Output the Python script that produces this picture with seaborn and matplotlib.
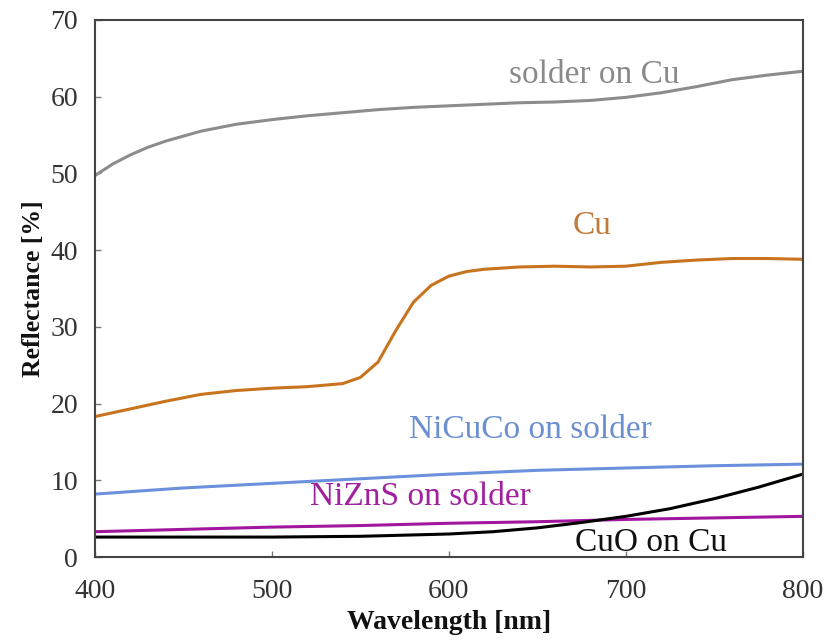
import matplotlib
matplotlib.use("Agg")
import matplotlib.pyplot as plt
import seaborn as sns
import pandas as pd

# ---- data ----
solder_wl = [400, 410, 420, 430, 440, 460, 480, 500, 520, 540, 560, 580, 600, 620, 640, 660, 680, 700, 720, 740, 760, 780, 800]
solder_r = [49.7, 51.2, 52.4, 53.4, 54.2, 55.5, 56.4, 57.0, 57.5, 57.9, 58.3, 58.6, 58.8, 59.0, 59.2, 59.3, 59.5, 59.9, 60.5, 61.3, 62.2, 62.8, 63.3]

cu_wl = [400, 420, 440, 460, 480, 500, 520, 540, 550, 560, 570, 580, 590, 600, 610, 620, 640, 660, 680, 700, 720, 740, 760, 780, 800]
cu_r = [18.3, 19.3, 20.3, 21.2, 21.7, 22.0, 22.2, 22.6, 23.4, 25.4, 29.5, 33.2, 35.4, 36.6, 37.2, 37.5, 37.8, 37.9, 37.8, 37.9, 38.4, 38.7, 38.9, 38.9, 38.8]

nicuco_wl = [400, 450, 500, 550, 600, 650, 700, 750, 800]
nicuco_r = [8.2, 9.0, 9.6, 10.2, 10.8, 11.3, 11.6, 11.9, 12.1]

niznS_wl = [400, 450, 500, 550, 600, 650, 700, 750, 800]
niznS_r = [3.3, 3.6, 3.9, 4.1, 4.4, 4.6, 4.9, 5.1, 5.3]

cuo_wl = [400, 450, 500, 550, 600, 625, 650, 675, 700, 725, 750, 775, 800]
cuo_r = [2.6, 2.6, 2.6, 2.7, 3.0, 3.3, 3.8, 4.5, 5.3, 6.3, 7.6, 9.1, 10.8]

series_names = ["solder on Cu", "Cu", "NiCuCo on solder", "NiZnS on solder", "CuO on Cu"]
x_ticks = [400, 500, 600, 700, 800]
y_ticks = [0, 10, 20, 30, 40, 50, 60, 70]

# ---- build long table ----
frames = []
for name, wl, r in zip(series_names,
                       [solder_wl, cu_wl, nicuco_wl, niznS_wl, cuo_wl],
                       [solder_r, cu_r, nicuco_r, niznS_r, cuo_r]):
    frames.append(pd.DataFrame({"Wavelength": wl, "Reflectance": r, "Sample": name}))
df = pd.concat(frames, ignore_index=True)

line_colors = {
    "solder on Cu": "#8c8c8c",
    "Cu": "#c8741e",
    "NiCuCo on solder": "#6b90dc",
    "NiZnS on solder": "#a0169f",
    "CuO on Cu": "#000000",
}
text_colors = {
    "solder on Cu": "#8a8a8a",
    "Cu": "#c07a3a",
    "NiCuCo on solder": "#6b8fd0",
    "NiZnS on solder": "#a0209f",
    "CuO on Cu": "#111111",
}

sns.set_theme(style="white")
plt.rcParams["font.family"] = ["Liberation Serif", "DejaVu Serif"]

fig = plt.figure(figsize=(8.25, 6.41), dpi=100)
ax = fig.add_axes([0.115, 0.131, 0.858, 0.838])

sns.lineplot(data=df, x="Wavelength", y="Reflectance", hue="Sample",
             palette=line_colors, linewidth=2.2, legend=False, ax=ax,
             estimator=None, sort=False)

ax.set_xlim(400, 800)
ax.set_ylim(0, 70)
ax.set_xticks(x_ticks)
ax.set_yticks(y_ticks)
ax.tick_params(axis="both", direction="in", length=4, width=1, colors="#777777",
               labelsize=20, labelcolor="#333333",
               bottom=True, left=True, top=False, right=False)
ax.tick_params(axis="x", pad=16)
ax.tick_params(axis="y", pad=12)
for s in ax.spines.values():
    s.set_color("#444444")
    s.set_linewidth(1.5)

ax.set_xlabel("Wavelength [nm]", fontsize=20, fontweight="bold", color="#111111", labelpad=4)
ax.set_ylabel("Reflectance [%]", fontsize=18.5, fontweight="bold", color="#111111", labelpad=4)

# annotations
label_pos = {
    "solder on Cu": (682, 62.9),
    "Cu": (681, 43.2),
    "NiCuCo on solder": (646, 16.6),
    "NiZnS on solder": (584, 7.8),
    "CuO on Cu": (714, 1.9),
}
for name in series_names:
    x, y = label_pos[name]
    ax.text(x, y, name, color=text_colors[name], fontsize=24,
            ha="center", va="center")

fig.savefig("out.png", dpi=100)
